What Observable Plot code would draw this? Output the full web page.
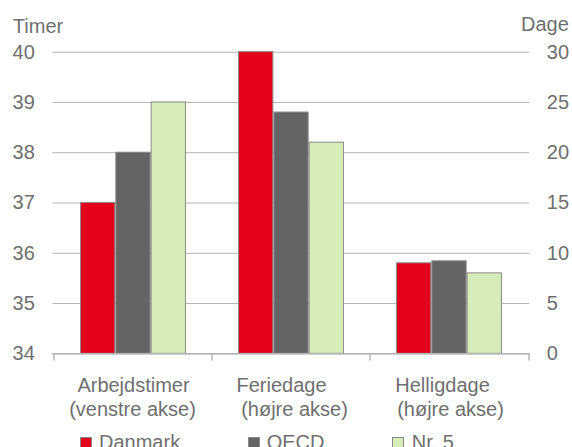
<!DOCTYPE html>
<html><head><meta charset="utf-8">
<script src="https://cdn.jsdelivr.net/npm/d3@7"></script>
<script src="https://cdn.jsdelivr.net/npm/@observablehq/plot@0.6"></script>
<style>
html,body{margin:0;padding:0;background:#fff;overflow:hidden;}
#wrap{position:relative;width:572px;height:447px;overflow:hidden;font-family:"Liberation Sans",Arial,sans-serif;color:#6f6f6f;}
#chart svg{display:block;}
.legend{position:relative;height:20px;font-size:20px;line-height:20px;}
.sw{position:absolute;top:5px;width:12px;height:12px;box-sizing:border-box;border:1px solid #8a8a8a;}
.lt{position:absolute;top:-0.1px;white-space:nowrap;}
</style>
</head><body>
<div id="wrap"><div id="chart"></div><div class="legend" id="legend"></div></div>
<script>
const categories = ["Arbejdstimer", "Feriedage", "Helligdage"];
const axisNotes = ["(venstre akse)", "(højre akse)", "(højre akse)"];
const series = ["Danmark", "OECD", "Nr. 5"];
const danmark = [37, 30, 9];
const oecd = [38, 24, 9.2];
const nr5 = [39, 21, 8];
const leftTicks = [34, 35, 36, 37, 38, 39, 40];
const rightTicks = [0, 5, 10, 15, 20, 25, 30];
const colors = ["#E2001A", "#646464", "#D8EBBA"];

const W = 572, H = 432;
const mL = 52.3, mR = W - 529.3, mT = 51.7, mB = H - 353.3;
const bw = (W - mL - mR) / 3;
const barW = 35.3, gap = (bw - 3 * barW) / 2;
// left axis (Timer 34–40) is mapped onto right axis scale (Dage 0–30)
const leftToRight = v => (v - leftTicks[0]) * (rightTicks[rightTicks.length - 1] / (leftTicks[leftTicks.length - 1] - leftTicks[0]));
const values = [danmark, oecd, nr5];
const rows = series.flatMap((s, i) => categories.map((c, j) => ({
  series: s, idx: i, category: c, value: values[i][j],
  y: j === 0 ? leftToRight(values[i][j]) : values[i][j]
})));
const gridC = "#b4b4b4";
const line1Dx = [0, -10, -7];
const line2Dx = [-1, 3, 1];

const chart = Plot.plot({
  width: W, height: H,
  marginLeft: mL, marginRight: mR, marginTop: mT, marginBottom: mB,
  style: {fontFamily: "Liberation Sans, Arial, sans-serif", fontSize: "20px", color: "#6f6f6f", background: "#fff"},
  x: {domain: categories, padding: 0, axis: null},
  y: {domain: [0, 30]},
  marks: [
    Plot.gridY(rightTicks, {stroke: gridC, strokeOpacity: 1, strokeWidth: 1}),
    ...series.map((s, i) => Plot.barY(rows.filter(r => r.idx === i), {
      x: "category", y: "y", fill: colors[i], stroke: "#8a8a8a", strokeWidth: 1,
      insetLeft: gap + i * barW, insetRight: bw - gap - (i + 1) * barW
    })),
    Plot.ruleY([0], {stroke: gridC, strokeWidth: 1.5}),
    Plot.ruleX(categories, {x: d => d, dx: -bw / 2, y1: 0, y2: -0.72, stroke: gridC, strokeWidth: 1.5}),
    Plot.ruleX([categories[categories.length - 1]], {x: d => d, dx: bw / 2, y1: 0, y2: -0.72, stroke: gridC, strokeWidth: 1.5}),
    Plot.axisY(rightTicks, {anchor: "left", tickSize: 0, tickPadding: 18, label: null,
      tickFormat: (d, i) => String(leftTicks[i])}),
    Plot.axisY(rightTicks, {anchor: "right", tickSize: 0, tickPadding: 17, label: null}),
    ...categories.map((c, j) => Plot.text([c], {x: d => d, frameAnchor: "bottom", lineAnchor: "top", dy: 24, dx: line1Dx[j]})),
    ...categories.map((c, j) => Plot.text([c], {x: d => d, text: () => axisNotes[j], frameAnchor: "bottom", lineAnchor: "top", dy: 47.6, dx: line2Dx[j]})),
    Plot.text(["Timer"], {frameAnchor: "top-left", dx: 12.3 - mL, dy: 32.3 - mT, textAnchor: "start", lineAnchor: "bottom"}),
    Plot.text(["Dage"], {frameAnchor: "top-right", dx: 568.3 - (W - mR), dy: 30 - mT, textAnchor: "end", lineAnchor: "bottom"})
  ]
});
document.getElementById("chart").appendChild(chart);

const legendX = [[80, 99], [248.3, 266.7], [391.7, 411.7]];
const lg = document.getElementById("legend");
series.forEach((s, i) => {
  const sw = document.createElement("div");
  sw.className = "sw"; sw.style.left = legendX[i][0] + "px"; sw.style.background = colors[i];
  const t = document.createElement("div");
  t.className = "lt"; t.style.left = legendX[i][1] + "px"; t.textContent = s;
  lg.appendChild(sw); lg.appendChild(t);
});
</script>
</body></html>
